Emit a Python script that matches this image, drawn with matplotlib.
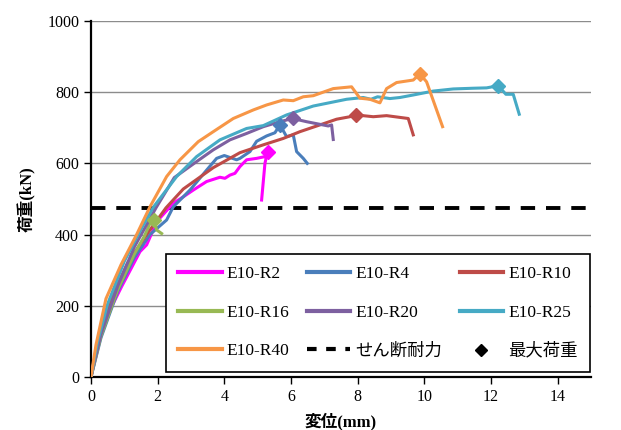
import matplotlib.pyplot as plt
from matplotlib.lines import Line2D

plt.rcParams['font.family'] = ['Liberation Serif', 'Noto Sans CJK JP']

# load-displacement curves (disp mm, load kN)
r2_x = [0, 0.15, 0.42, 0.92, 1.47, 1.67, 1.82, 1.97, 2.47, 2.77, 3.07, 3.47, 3.87, 4.02, 4.17, 4.32, 4.47, 4.67, 4.97, 5.22, 5.3, 5.22, 5.12]
r2_y = [0, 70, 160, 254, 352, 371, 403, 436, 488, 506, 525, 549, 561, 558, 567, 572, 591, 610, 614, 619, 633, 600, 497]

r4_x = [0, 0.3, 0.8, 1.3, 1.77, 2.27, 2.47, 2.97, 3.47, 3.77, 4.0, 4.37, 4.47, 4.77, 4.97, 5.27, 5.52, 5.67, 5.87, 6.07, 6.17, 6.37, 6.49]
r4_y = [0, 110, 240, 335, 400, 441, 478, 525, 581, 614, 622, 610, 614, 633, 662, 677, 686, 708, 675, 680, 633, 614, 600]

r10_x = [0, 0.3, 0.7, 1.1, 1.67, 2.25, 2.77, 3.67, 4.47, 5.17, 5.77, 6.27, 6.87, 7.37, 7.77, 7.95, 8.47, 8.87, 9.52, 9.67]
r10_y = [0, 130, 240, 320, 400, 475, 528, 588, 630, 652, 670, 689, 708, 724, 731, 736, 731, 734, 726, 680]

r16_x = [0, 0.3, 0.8, 1.3, 1.6, 1.77, 1.89, 1.97, 2.12]
r16_y = [0, 115, 245, 345, 395, 431, 440, 413, 403]

r20_x = [0, 0.3, 0.8, 1.3, 1.95, 2.5, 3.17, 3.67, 4.17, 4.67, 5.17, 5.67, 6.05, 6.47, 7.12, 7.22, 7.27]
r20_y = [0, 120, 255, 365, 475, 560, 605, 638, 666, 684, 703, 717, 726, 717, 705, 708, 667]

r25_x = [0, 0.2, 0.5, 1.0, 1.5, 1.88, 2.57, 3.17, 3.87, 4.67, 5.17, 5.87, 6.67, 7.67, 8.17, 8.4, 8.6, 8.97, 9.27, 9.67, 10.27, 10.87, 11.47, 11.87, 12.22, 12.45, 12.67, 12.85]
r25_y = [0, 100, 205, 325, 415, 478, 563, 619, 666, 698, 706, 736, 761, 780, 785, 780, 787, 782, 785, 792, 803, 809, 811, 812, 818, 794, 794, 738]

r40_x = [0, 0.15, 0.45, 0.9, 1.37, 1.77, 2.27, 2.67, 3.22, 3.67, 4.27, 4.87, 5.27, 5.77, 6.07, 6.37, 6.67, 7.27, 7.82, 8.07, 8.37, 8.67, 8.87, 9.17, 9.67, 9.87, 10.07, 10.55]
r40_y = [0, 90, 220, 315, 400, 478, 563, 610, 661, 689, 726, 750, 764, 778, 776, 787, 790, 810, 815, 783, 780, 770, 810, 827, 834, 851, 829, 703]

series = [
    ('E10-R2', r2_x, r2_y, '#FF00FF'),
    ('E10-R4', r4_x, r4_y, '#4A7EBB'),
    ('E10-R10', r10_x, r10_y, '#BE4B48'),
    ('E10-R16', r16_x, r16_y, '#98B954'),
    ('E10-R20', r20_x, r20_y, '#7D60A0'),
    ('E10-R25', r25_x, r25_y, '#46AAC5'),
    ('E10-R40', r40_x, r40_y, '#F79646'),
]

shear_capacity = 475

fig = plt.figure(figsize=(6.21, 4.30), dpi=100)
ax = fig.add_axes([0.1465, 0.1233, 0.805, 0.828])

for name, xs, ys, col in series:
    ax.plot(xs, ys, color=col, lw=2.2, label=name, zorder=3)
    # peak load marker
    i = ys.index(max(ys))
    ax.plot(xs[i], ys[i], marker='D', ms=7, color=col, zorder=4)

ax.axhline(shear_capacity, color='black', lw=2.8, dashes=(3.7, 2.8), zorder=2)

ax.set_xlim(0, 15)
ax.set_ylim(0, 1000)
ax.set_xticks(range(0, 15, 2))
ax.set_yticks(range(0, 1001, 200))
ax.yaxis.grid(True, color='#8c8c8c', lw=1)
ax.set_axisbelow(True)
for s in ['top', 'right']:
    ax.spines[s].set_visible(False)
ax.spines['left'].set_linewidth(1.6)
ax.spines['bottom'].set_linewidth(1.6)
ax.tick_params(direction='out', length=5, width=1, labelsize=11.5)

ax.set_xlabel('変位(mm)', fontsize=12, fontweight='bold', labelpad=6)
ax.set_ylabel('荷重(kN)', fontsize=12, fontweight='bold', labelpad=8)

handles = [Line2D([], [], color=c, lw=3) for _, _, _, c in series]
labels = [n for n, _, _, _ in series]
handles += [Line2D([], [], color='black', lw=3, dashes=(2.3, 2.3)),
            Line2D([], [], color='black', ls='none', marker='D', ms=6)]
labels += ['せん断耐力', '最大荷重']

# legend fills column by column; reorder so entries read across rows
order = [0, 3, 6, 1, 4, 7, 2, 5, 8]
handles = [handles[k] for k in order]
labels = [labels[k] for k in order]

leg = ax.legend(handles, labels, ncol=3, loc='lower left',
                bbox_to_anchor=(0.15, 0.014, 0.848, 0.354), mode='expand',
                fontsize=12.5, handlelength=2.5, labelspacing=1.3,
                borderaxespad=0, fancybox=False, framealpha=1,
                edgecolor='black', handletextpad=0.3, borderpad=0.7)
leg.get_frame().set_linewidth(1.2)

fig.savefig('out.png', dpi=100)
